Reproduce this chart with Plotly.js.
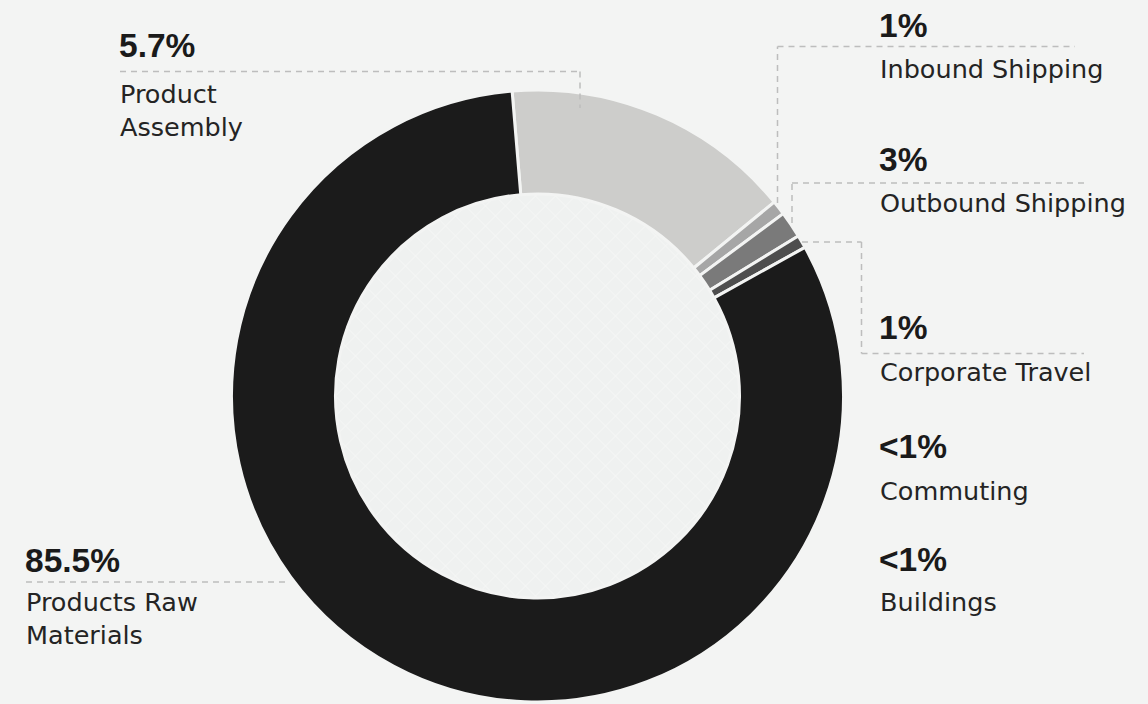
<!DOCTYPE html>
<html>
<head>
<meta charset="utf-8">
<script src="https://cdn.plot.ly/plotly-3.0.1.min.js"></script>
<style>
  html, body { margin: 0; padding: 0; background: #f3f4f3; }
  #chart { width: 1148px; height: 704px; }
</style>
</head>
<body>
<div id="chart"></div>
<script>
// ---- data ----
const categories = ["Product Assembly", "Inbound Shipping", "Outbound Shipping", "Corporate Travel", "Products Raw Materials"];
const sliceShares = [15.4, 0.76, 1.4, 0.69, 81.75];          // visual share of the ring
const sliceColors = ["#cdcdcb", "#a6a6a6", "#7a7a7a", "#4e4e4e", "#1b1b1b"];

const labelNames = ["Product<br>Assembly", "Inbound Shipping", "Outbound Shipping", "Corporate Travel", "Commuting", "Buildings", "Products Raw<br>Materials"];
const labelPercents = ["5.7%", "1%", "3%", "1%", "<1%", "<1%", "85.5%"];

// ---- layout helpers (pixel -> paper) ----
const W = 1148, H = 704;
const px = x => x / W;
const py = y => 1 - y / H;

const cx = 537.5, cy = 396, R = 306, Rin = 202;

// label anchor positions (pixels): [x, percent center y, name block center y]
const labelPos = [
  [120, 45, 110],
  [880, 25, 69],
  [880, 159, 203],
  [880, 328, 372],
  [880, 446, 490.5],
  [880, 559, 601.5],
  [26, 560, 618]
];

const annotations = [];
labelPercents.forEach((p, i) => {
  const [x, yp, yn] = labelPos[i];
  annotations.push({
    xref: 'paper', yref: 'paper', x: px(x - 3), y: py(yp),
    xanchor: 'left', yanchor: 'middle', showarrow: false, align: 'left',
    text: p, font: {family: 'Liberation Sans, Arial, sans-serif', size: 33.5, color: '#1a1a1a', weight: 700}
  });
  annotations.push({
    xref: 'paper', yref: 'paper', x: px(x - 2), y: py(yn),
    xanchor: 'left', yanchor: 'middle', showarrow: false, align: 'left',
    text: labelNames[i], font: {family: 'DejaVu Sans, sans-serif', size: 25.5, color: '#242424'}
  });
});

// leader lines (pixel polylines)
const leaders = [
  [[120, 71.5], [580, 71.5], [580, 108]],
  [[777.5, 203], [777.5, 46.5], [1075, 46.5]],
  [[792, 223], [792, 183], [1084, 183]],
  [[802, 242], [861.5, 242], [861.5, 353.5], [1084, 353.5]],
  [[26, 582], [290, 582]]
];
const shapes = [{
  type: 'circle', xref: 'paper', yref: 'paper', layer: 'below',
  x0: px(cx - Rin), x1: px(cx + Rin), y0: py(cy + Rin), y1: py(cy - Rin),
  fillcolor: '#eff1f0', line: {width: 0}
}];

// subtle crosshatch texture inside the hole (decoration)
(function () {
  const step = 20, r = Rin - 1;
  let d = '';
  [1, -1].forEach(s => {
    for (let c = -2 * r; c <= 2 * r; c += step) {
      // line: (x - cx) + s*(y - cy) = c  -> param along direction (1, -s)/sqrt2
      const dist = Math.abs(c) / Math.SQRT2;
      if (dist >= r) continue;
      const half = Math.sqrt(r * r - dist * dist);
      const fx = cx + c / 2, fy = cy + s * c / 2;     // foot point from centre
      const ux = 1 / Math.SQRT2, uy = -s / Math.SQRT2;
      const x1 = fx - ux * half, y1 = fy - uy * half, x2 = fx + ux * half, y2 = fy + uy * half;
      d += `M${px(x1)},${py(y1)}L${px(x2)},${py(y2)}`;
    }
  });
  shapes.push({type: 'path', xref: 'paper', yref: 'paper', layer: 'below', path: d,
    line: {color: '#f6f7f6', width: 1}});
})();

leaders.forEach(pts => {
  for (let k = 0; k < pts.length - 1; k++) {
    shapes.push({
      type: 'line', xref: 'paper', yref: 'paper', layer: 'above',
      x0: px(pts[k][0]), y0: py(pts[k][1]), x1: px(pts[k + 1][0]), y1: py(pts[k + 1][1]),
      line: {color: '#bdbdbd', width: 1.5, dash: '6px,5px'}
    });
  }
});

const trace = {
  type: 'pie',
  labels: categories,
  values: sliceShares,
  sort: false,
  direction: 'clockwise',
  rotation: -4.76,
  hole: Rin / R,
  textinfo: 'none',
  hoverinfo: 'label',
  marker: {colors: sliceColors, line: {color: '#f3f4f3', width: 3}},
  domain: {x: [px(cx - R), px(cx + R)], y: [py(cy + R), py(cy - R)]},
  showlegend: false
};

const layout = {
  width: W, height: H,
  margin: {l: 0, r: 0, t: 0, b: 0},
  paper_bgcolor: '#f3f4f3',
  plot_bgcolor: '#f3f4f3',
  showlegend: false,
  annotations: annotations,
  shapes: shapes
};

Plotly.newPlot('chart', [trace], layout, {displayModeBar: false, staticPlot: true});
</script>
</body>
</html>
